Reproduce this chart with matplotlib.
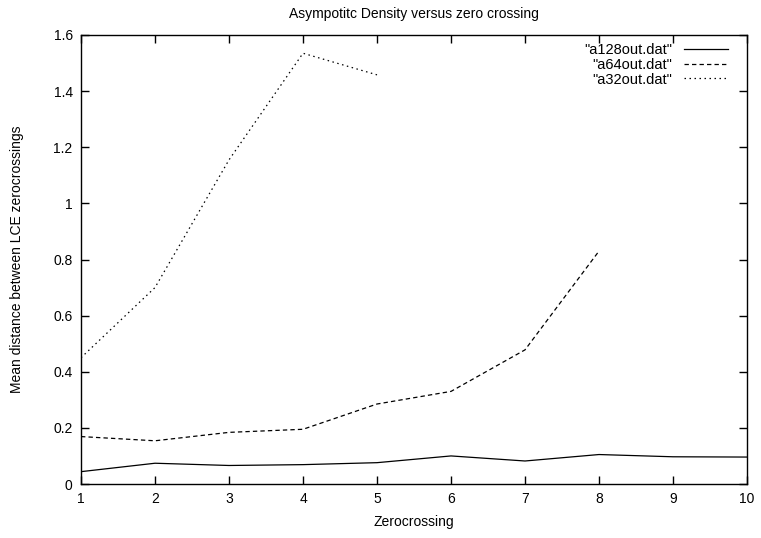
import matplotlib
matplotlib.use("Agg")
import matplotlib.pyplot as plt

plt.rcParams['font.family'] = ['Liberation Sans', 'DejaVu Sans']

x128 = [1, 2, 3, 4, 5, 6, 7, 8, 9, 10]
y128 = [0.044, 0.074, 0.066, 0.069, 0.076, 0.100, 0.082, 0.105, 0.097, 0.096]
x64 = [1, 2, 3, 4, 5, 6, 7, 8]
y64 = [0.169, 0.154, 0.184, 0.195, 0.285, 0.330, 0.478, 0.830]
x32 = [1, 2, 3, 4, 5]
y32 = [0.45, 0.70, 1.155, 1.535, 1.458]

labels = ['"a128out.dat"', '"a64out.dat"', '"a32out.dat"']
xticks = list(range(1, 11))
yticks = [0, 0.2, 0.4, 0.6, 0.8, 1, 1.2, 1.4, 1.6]
ytick_labels = ['0', '0.2', '0.4', '0.6', '0.8', '1', '1.2', '1.4', '1.6']

fig = plt.figure(figsize=(7.61, 5.38), dpi=100)
ax = fig.add_axes([81/761, 1-484/538, (747-81)/761, (484-35)/538])

ax.plot(x128, y128, color='black', lw=0.9, linestyle='-', label=labels[0])
ax.plot(x64, y64, color='black', lw=0.9, linestyle=(0, (3.5, 2.5)), label=labels[1])
ax.plot(x32, y32, color='black', lw=0.9, linestyle=(0, (1.2, 2.8)), label=labels[2])

ax.set_xlim(1, 10)
ax.set_ylim(0, 1.6)
ax.set_xticks(xticks)
ax.set_yticks(yticks)
ax.set_yticklabels(ytick_labels)
ax.tick_params(direction='in', length=6, width=1, top=True, right=True, labelsize=10, pad=6)
for s in ax.spines.values():
    s.set_linewidth(1)

ax.set_title('Asympotitc Density versus zero crossing', fontsize=10, pad=12)
ax.set_xlabel('Zerocrossing', fontsize=10, labelpad=6)
ax.set_ylabel('Mean distance between LCE zerocrossings', fontsize=10, labelpad=21)

leg = ax.legend(loc='upper right', frameon=False, markerfirst=False, fontsize=10.5,
                handlelength=3.0, handletextpad=0.8, labelspacing=0.05,
                borderaxespad=0.0, bbox_to_anchor=(0.98, 0.995))
for t in leg.get_texts():
    t.set_ha('right')

fig.savefig('out.png', dpi=100)
